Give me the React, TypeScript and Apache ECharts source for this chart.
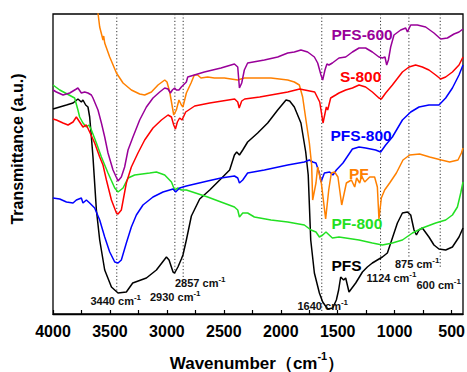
import React, { useEffect, useRef } from 'react';
import * as echarts from 'echarts';

// ---------- data ----------
const xLabelValues = [500, 1000, 1500, 2000, 2500, 3000, 3500, 4000];
const xTickValues = [500, 750, 1000, 1250, 1500, 1750, 2000, 2250, 2500, 2750, 3000, 3250, 3500, 3750, 4000];

const peakWavenumbers = [3440, 2930, 2857, 1640, 1124, 875, 600];
const peakLineEnds = [22, 39, 34, 0, 43, 56, 46];
const peakLabels = ['3440', '2930', '2857', '1640', '1124', '875', '600'];

const seriesNames = ['PFS', 'PF-800', 'PFS-800', 'PF', 'S-800', 'PFS-600'];

const PFS = [[4000,205],[3941,207],[3882,209],[3824,211],[3781,215],[3751,212],[3737,214],[3713,209],[3693,207],[3678,197],[3663,177],[3649,157],[3619,104],[3590,74],[3546,44],[3487,27],[3429,21],[3356,22],[3300,31],[3180,36],[3092,44],[3004,57],[2981,54],[2946,42],[2932,41],[2903,47],[2873,55],[2859,59],[2829,74],[2785,98],[2712,115],[2624,124],[2536,134],[2449,144],[2407,159],[2387,162],[2363,159],[2334,164],[2291,172],[2203,181],[2115,191],[2027,204],[1954,214],[1922,213],[1881,207],[1823,191],[1781,162],[1759,139],[1737,74],[1705,41],[1661,21],[1632,12],[1588,5],[1544,6],[1512,14],[1492,24],[1474,37],[1448,34],[1430,36],[1401,22],[1342,31],[1283,42],[1240,47],[1196,51],[1152,54],[1108,57],[1064,61],[1020,76],[976,91],[932,101],[888,102],[859,99],[830,84],[809,79],[786,84],[757,86],[699,77],[655,69],[611,65],[552,64],[493,67],[435,77],[400,86]];

const PF800 = [[4000,229],[3941,224],[3810,216],[3781,204],[3766,197],[3737,191],[3707,187],[3684,189],[3663,184],[3619,171],[3575,157],[3546,149],[3517,141],[3458,126],[3429,122],[3385,126],[3341,136],[3283,139],[3151,141],[3092,142],[3019,139],[2960,132],[2932,124],[2903,126],[2873,124],[2829,124],[2642,117],[2525,112],[2407,107],[2378,104],[2363,97],[2334,101],[2291,101],[2232,97],[2086,94],[1939,92],[1793,89],[1735,84],[1691,82],[1661,77],[1632,79],[1603,82],[1547,76],[1489,77],[1430,76],[1313,74],[1196,71],[1108,69],[1020,71],[932,74],[844,81],[757,86],[640,91],[552,94],[493,99],[449,107],[420,121],[400,132]];

const PFS800 = [[4000,116],[3941,115],[3882,112],[3824,111],[3795,114],[3751,116],[3737,111],[3707,114],[3678,111],[3634,106],[3590,94],[3546,77],[3502,62],[3458,52],[3429,51],[3400,54],[3356,71],[3312,87],[3268,99],[3210,109],[3122,117],[3034,122],[2946,125],[2923,122],[2888,126],[2829,128],[2642,133],[2525,136],[2407,138],[2378,136],[2363,131],[2334,134],[2291,141],[2144,144],[1939,149],[1793,152],[1749,154],[1720,152],[1691,151],[1661,141],[1647,132],[1617,141],[1571,142],[1542,139],[1512,144],[1454,151],[1371,165],[1313,167],[1255,166],[1167,164],[1123,162],[1079,169],[1020,177],[932,194],[859,202],[786,207],[699,209],[611,209],[552,216],[493,226],[435,239],[400,249]];

const PF = [[3651,319],[3605,301],[3590,287],[3572,279],[3561,274],[3555,278],[3546,271],[3502,257],[3443,241],[3385,231],[3312,224],[3239,220],[3195,219],[3136,222],[3078,229],[3019,234],[2999,232],[2975,222],[2952,207],[2940,199],[2917,204],[2894,214],[2873,209],[2859,207],[2829,221],[2788,231],[2759,239],[2730,239],[2701,236],[2642,237],[2583,236],[2495,236],[2378,234],[2320,236],[2232,236],[2086,236],[1939,234],[1881,232],[1837,229],[1808,217],[1779,194],[1749,171],[1729,149],[1720,114],[1691,131],[1676,147],[1644,131],[1606,95],[1579,124],[1556,141],[1527,142],[1498,137],[1465,109],[1424,131],[1380,134],[1351,127],[1334,136],[1307,131],[1290,138],[1263,132],[1219,137],[1176,137],[1152,127],[1138,95],[1117,116],[1088,124],[1044,131],[985,141],[927,154],[868,159],[781,160],[693,157],[590,154],[517,152],[444,154],[414,161],[400,166]];

const S800 = [[4000,195],[3970,194],[3912,191],[3868,189],[3824,192],[3795,197],[3766,192],[3737,187],[3707,189],[3678,182],[3634,171],[3590,157],[3561,149],[3531,134],[3487,114],[3443,101],[3429,100],[3400,104],[3356,131],[3312,147],[3254,161],[3195,174],[3122,186],[3048,194],[2990,199],[2960,197],[2940,189],[2925,185],[2908,192],[2888,196],[2867,194],[2835,202],[2756,208],[2624,211],[2405,215],[2378,212],[2365,206],[2343,213],[2317,215],[2185,217],[1939,222],[1834,225],[1702,222],[1658,212],[1629,191],[1600,207],[1588,204],[1562,216],[1518,219],[1489,221],[1430,224],[1371,226],[1313,229],[1255,227],[1196,222],[1138,216],[1117,215],[1079,221],[1020,229],[932,242],[874,247],[816,249],[757,247],[699,244],[640,239],[596,235],[552,237],[493,242],[435,249],[400,257]];

const PFS600 = [[4000,224],[3970,222],[3912,219],[3853,221],[3795,225],[3781,226],[3751,221],[3722,222],[3693,221],[3663,219],[3649,216],[3605,204],[3575,191],[3546,177],[3517,161],[3473,144],[3429,133],[3400,137],[3371,147],[3341,164],[3298,177],[3239,194],[3180,207],[3122,216],[3063,222],[3019,226],[2990,225],[2969,221],[2952,224],[2932,226],[2917,224],[2894,224],[2873,227],[2829,232],[2817,237],[2671,242],[2525,246],[2407,250],[2378,247],[2363,226],[2343,231],[2320,244],[2291,251],[2144,254],[2027,257],[1939,261],[1881,262],[1823,264],[1764,262],[1705,257],[1676,251],[1647,239],[1632,234],[1612,244],[1595,250],[1577,249],[1547,251],[1489,256],[1430,257],[1371,262],[1313,266],[1255,266],[1196,262],[1138,257],[1108,256],[1085,257],[1070,249],[1055,254],[1035,267],[1006,279],[947,284],[903,286],[888,282],[859,289],[801,289],[728,287],[655,281],[596,275],[537,276],[479,280],[435,282],[400,285]];

const seriesData = [PFS, PF800, PFS800, PF, S800, PFS600];

// ---------- styles / layout ----------
const FONT = 'Arial, "Liberation Sans", Helvetica, sans-serif';
const seriesColors = ['#000000', '#22e022', '#0000ff', '#ff8000', '#ff0000', '#990099'];
const seriesLabelPos = [
  [331.5, 265], [331.5, 223], [330.5, 135], [349, 173], [340, 76], [331.5, 34],
];
const peakLabelPos = [
  [90.5, 300], [150, 296], [175, 282], [297.5, 305], [366.5, 277], [395, 263], [416.5, 284],
];

export default function App() {
  const ref = useRef<HTMLDivElement>(null);
  useEffect(() => {
    if (!ref.current) return;
    const chart = echarts.init(ref.current, undefined, { renderer: 'svg' });

    const lineSeries = seriesNames.map((name, i) => ({
      name,
      type: 'line',
      data: seriesData[i],
      showSymbol: false,
      symbol: 'none',
      clip: true,
      lineStyle: { color: seriesColors[i], width: 1.5 },
      itemStyle: { color: seriesColors[i] },
      z: 3,
    }));

    const peakSeries = peakWavenumbers.map((w, i) => ({
      name: 'peak-' + peakLabels[i],
      type: 'line',
      data: [[w, 300], [w, peakLineEnds[i]]],
      showSymbol: false,
      symbol: 'none',
      silent: true,
      lineStyle: { color: '#333', width: 1, type: [1.2, 2.2] },
      z: 2,
    }));

    const supRich = {
      a: { fontSize: 11, fontWeight: 'bold', fontFamily: FONT, fill: '#111', lineHeight: 13, verticalAlign: 'bottom' },
      b: { fontSize: 8, fontWeight: 'bold', fontFamily: FONT, fill: '#111', lineHeight: 7, verticalAlign: 'top' },
    };

    const peakTexts = peakLabels.map((t, i) => ({
      type: 'text',
      x: peakLabelPos[i][0],
      y: peakLabelPos[i][1],
      z: 10,
      style: {
        text: '{a|' + t + ' cm}{b|-1}',
        rich: supRich,
        align: 'left',
        verticalAlign: 'middle',
      },
    }));

    const seriesTexts = seriesNames.map((n, i) => ({
      type: 'text',
      x: seriesLabelPos[i][0],
      y: seriesLabelPos[i][1],
      z: 10,
      style: {
        text: n,
        fill: seriesColors[i],
        fontSize: 15.5,
        fontWeight: 'bold',
        fontFamily: FONT,
        align: 'left',
        verticalAlign: 'middle',
      },
    }));

    const axisTitleRich = {
      a: { fontSize: 17, fontWeight: 'bold', fontFamily: FONT, fill: '#000', lineHeight: 22, verticalAlign: 'bottom' },
      b: { fontSize: 11, fontWeight: 'bold', fontFamily: FONT, fill: '#000', lineHeight: 12, verticalAlign: 'top' },
    };

    chart.setOption({
      animation: false,
      grid: {
        left: 53, right: 4, top: 14, bottom: 58,
        show: true, borderColor: '#000', borderWidth: 1.3,
        containLabel: false, outerBoundsMode: 'none',
      },
      xAxis: {
        type: 'value',
        inverse: true,
        min: 400,
        max: 4000,
        axisLine: { show: true, lineStyle: { color: '#000', width: 1.3 } },
        axisTick: { show: true, inside: true, length: 4, customValues: xTickValues, lineStyle: { color: '#000', width: 1.2 } },
        axisLabel: {
          customValues: xLabelValues,
          formatter: (v: number) => String(v),
          fontSize: 16, fontWeight: 'bold', color: '#000', fontFamily: FONT, margin: 9,
          hideOverlap: false,
        },
        splitLine: { show: false },
      },
      yAxis: {
        type: 'value',
        min: 0,
        max: 300,
        axisLine: { show: false },
        axisTick: { show: false },
        axisLabel: { show: false },
        splitLine: { show: false },
      },
      series: [...peakSeries, ...lineSeries],
      graphic: [
        ...peakTexts,
        ...seriesTexts,
        {
          type: 'text',
          x: 257,
          y: 361,
          style: {
            text: '{a|Wavenumber（cm}{b|-1}{a|）}',
            rich: axisTitleRich,
            align: 'center',
            verticalAlign: 'middle',
          },
        },
        {
          type: 'text',
          x: 17.5,
          y: 149,
          rotation: Math.PI / 2,
          style: {
            text: 'Transmittance (a.u.)',
            fill: '#000',
            fontSize: 16,
            fontWeight: 'bold',
            fontFamily: FONT,
            align: 'center',
            verticalAlign: 'middle',
          },
        },
      ],
    });

    return () => chart.dispose();
  }, []);

  return (
    <div
      ref={ref}
      style={{ position: 'fixed', left: 0, top: 0, width: 467, height: 372, background: '#fff' }}
    />
  );
}
